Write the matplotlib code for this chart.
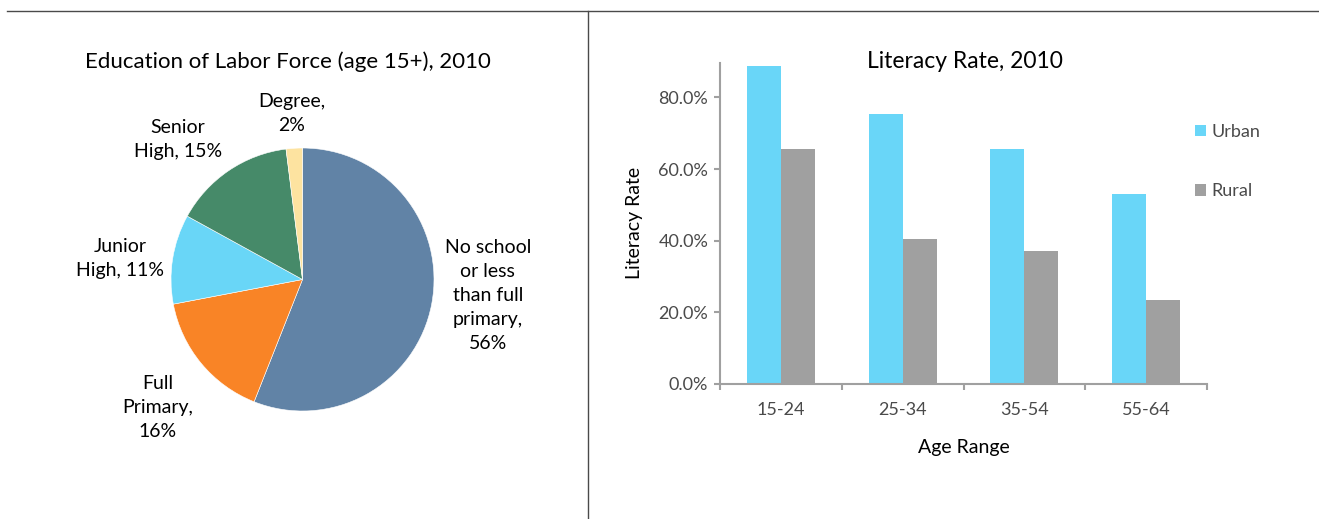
import numpy as np
import matplotlib
matplotlib.use("Agg")
import matplotlib.pyplot as plt
from matplotlib.lines import Line2D
from matplotlib.patches import Patch

plt.rcParams['font.family'] = ['Lato', 'DejaVu Sans']

# ---- data ----
pie_labels = ["No school\nor less\nthan full\nprimary,\n56%", "Full\nPrimary,\n16%",
              "Junior\nHigh, 11%", "Senior\nHigh, 15%", "Degree,\n2%"]
pie_values = [56, 16, 11, 15, 2]
pie_colors = ["#6183a6", "#f98426", "#69d6f7", "#468a69", "#fde3a0"]

age_ranges = ["15-24", "25-34", "35-54", "55-64"]
urban = [0.888, 0.753, 0.657, 0.530]
rural = [0.657, 0.406, 0.370, 0.235]
series_names = ["Urban", "Rural"]
bar_colors = ["#69d6f8", "#a0a0a0"]

W, H = 1319, 519
fig = plt.figure(figsize=(W / 100, H / 100), dpi=100)


def fx(px):
    return px / W


def fy(py):
    return 1 - py / H


# separator lines
fig.add_artist(Line2D([fx(7), 1], [fy(11), fy(11)], color="#4a4a4a", lw=1.0))
fig.add_artist(Line2D([fx(588), fx(588)], [fy(11), 0], color="#4a4a4a", lw=1.0))

# ---- pie chart ----
cx, cy, R, half = 302.5, 279.5, 131.5, 230
ax_pie = fig.add_axes([fx(cx - half), fy(cy + half), 2 * half / W, 2 * half / H])
ax_pie.pie(pie_values, colors=pie_colors, startangle=90, counterclock=False,
           radius=1, wedgeprops=dict(edgecolor="white", linewidth=0.4))
lim = half / R
ax_pie.set_xlim(-lim, lim)
ax_pie.set_ylim(-lim, lim)
ax_pie.set_aspect("auto")
ax_pie.set_axis_off()

# label positions (in pie radius units)
label_pos = [(1.41, -0.125), (-1.10, -0.977), (-1.388, 0.163), (-0.947, 1.068), (-0.08, 1.259)]
for txt, (lx, ly) in zip(pie_labels, label_pos):
    ax_pie.text(lx, ly, txt, ha="center", va="center", fontsize=14,
                linespacing=1.5, color="black")

fig.text(fx(288), fy(62), "Education of Labor Force (age 15+), 2010",
         ha="center", va="center", fontsize=16, color="black")

# ---- bar chart ----
ax = fig.add_axes([fx(720), fy(384), (1207 - 720) / W, (384 - 62.7) / H])
x = np.arange(len(age_ranges))
bw = 0.28
ax.bar(x - bw / 2, urban, bw, color=bar_colors[0], label=series_names[0])
ax.bar(x + bw / 2, rural, bw, color=bar_colors[1], label=series_names[1])

ax.set_xlim(-0.5, len(age_ranges) - 0.5)
ax.set_ylim(0, 0.897)
ax.set_yticks([0, 0.2, 0.4, 0.6, 0.8])
ax.set_yticklabels([f"{v * 100:.1f}%" for v in [0, 0.2, 0.4, 0.6, 0.8]])
ax.set_xticks(np.arange(len(age_ranges) + 1) - 0.5)
ax.set_xticklabels([])
ax.set_xticks(x, minor=True)
ax.set_xticklabels(age_ranges, minor=True)

for s in ["top", "right"]:
    ax.spines[s].set_visible(False)
for s in ["left", "bottom"]:
    ax.spines[s].set_color("#a0a0a0")
    ax.spines[s].set_linewidth(1.5)

ax.tick_params(axis="y", which="major", length=4.5, width=1.5, color="#a0a0a0",
               labelsize=13, labelcolor="#4a4a4a", pad=4)
ax.tick_params(axis="x", which="major", length=4, width=1.5, color="#a0a0a0")
ax.tick_params(axis="x", which="minor", length=0, labelsize=13,
               labelcolor="#4a4a4a", pad=13)

ax.set_ylabel("Literacy Rate", fontsize=14, labelpad=11)
ax.set_xlabel("Age Range", fontsize=14, labelpad=15)
fig.text(fx(965), fy(62), "Literacy Rate, 2010", ha="center", va="center",
         fontsize=16.5, color="black")

handles = [Patch(facecolor=c) for c in bar_colors]
leg = fig.legend(handles, series_names, loc="center left",
                 bbox_to_anchor=(fx(1195), fy(161.5)), frameon=False,
                 fontsize=13, handlelength=0.6, handleheight=0.6,
                 handletextpad=0.3, labelspacing=2.4, borderpad=0,
                 borderaxespad=0)
for t in leg.get_texts():
    t.set_color("#4a4a4a")

fig.savefig("out.png", dpi=100)
